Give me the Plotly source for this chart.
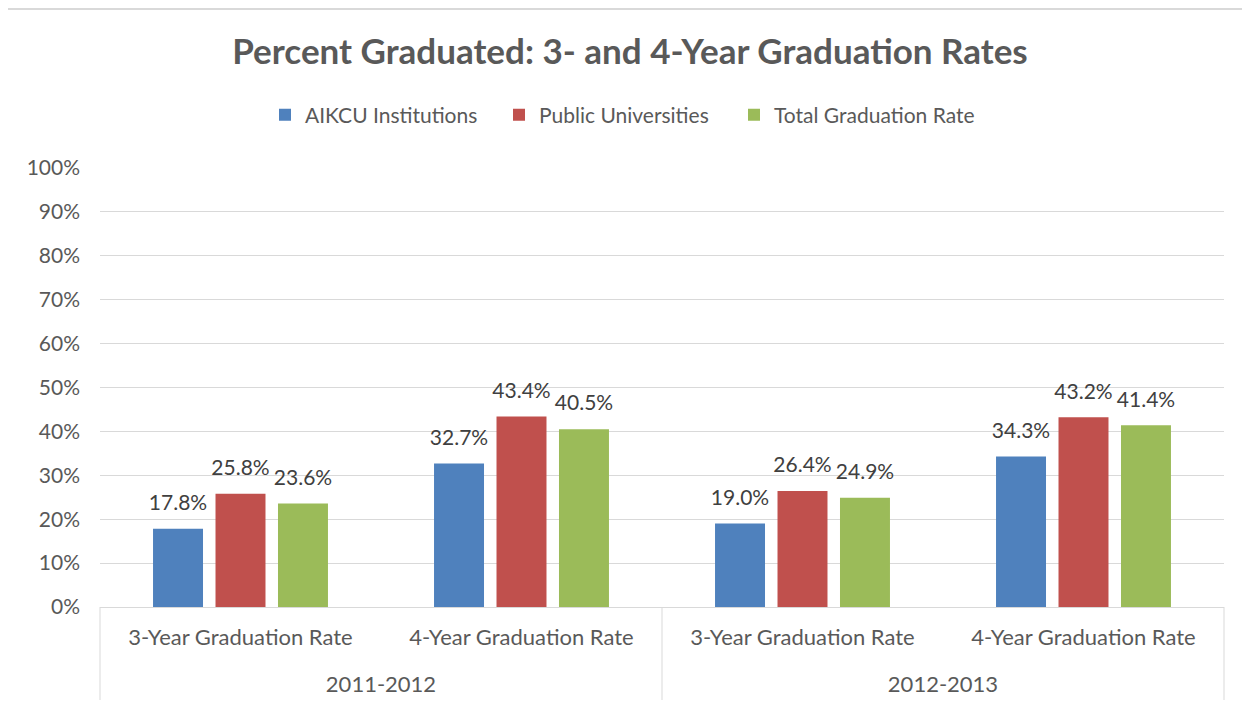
import plotly.graph_objects as go
from plotly.subplots import make_subplots

years = ["2011-2012", "2012-2013"]
rate_types = ["3-Year Graduation Rate", "4-Year Graduation Rate"]

series_names = ["AIKCU Institutions", "Public Universities", "Total Graduation Rate"]
# values ordered: [2011-2012 3yr, 2011-2012 4yr, 2012-2013 3yr, 2012-2013 4yr]
aikcu = [17.8, 32.7, 19.0, 34.3]
public = [25.8, 43.4, 26.4, 43.2]
total = [23.6, 40.5, 24.9, 41.4]
colors = ["#4F81BD", "#C0504D", "#9BBB59"]

y_ticks = list(range(0, 101, 10))
y_ticktext = [f"{v}%" for v in y_ticks]

FONT = "Lato"
TXT = "#595959"
GRID = "#D9D9D9"

# page offset (browser body margin) compensation
OFF = 8
W, H = 1250, 707
L, R_EDGE, T, B_EDGE = 100 - OFF, 1224 - OFF, 168 - OFF, 607 - OFF
PW, PH = R_EDGE - L, B_EDGE - T
GAP = 0.333

legend_ids = ["legend", "legend2", "legend3"]
legend_left_px = [265, 499, 734]

fig = make_subplots(rows=1, cols=2, shared_yaxes=True, horizontal_spacing=0)
for si, (name, vals, col) in enumerate(zip(series_names, [aikcu, public, total], colors)):
    for yi, yr in enumerate(years):
        v = vals[2 * yi:2 * yi + 2]
        fig.add_trace(go.Bar(
            x=rate_types, y=v, name=name,
            legendgroup=name, showlegend=(yi == 0), legend=legend_ids[si],
            offsetgroup=str(si),
            marker=dict(color=col, line=dict(width=0)),
            hoverinfo="skip",
        ), row=1, col=yi + 1)
        # value labels, grouped like the bars
        fig.add_trace(go.Scatter(
            x=rate_types, y=v, mode="markers+text", showlegend=False,
            offsetgroup=str(si), legendgroup=name, legend=legend_ids[si],
            marker=dict(size=20, opacity=0, color=col),
            text=[f"{a:.1f}%" for a in v], textposition="top center",
            textfont=dict(family=FONT, size=21, color="#404040"),
            cliponaxis=False, hoverinfo="skip",
        ), row=1, col=yi + 1)

legend_y = (B_EDGE - (115 - OFF)) / PH
legend_cfgs = {}
for lid, lx in zip(legend_ids, legend_left_px):
    legend_cfgs[lid] = dict(orientation="h", x=(lx - OFF - L) / PW, xanchor="left",
                            y=legend_y, yanchor="middle",
                            font=dict(family=FONT, size=21, color=TXT),
                            bgcolor="rgba(0,0,0,0)")

fig.update_layout(
    width=W, height=H,
    paper_bgcolor="white", plot_bgcolor="white",
    margin=dict(l=L, r=W - R_EDGE, t=T, b=H - B_EDGE),
    barmode="group", bargap=GAP, bargroupgap=0.2,
    scattermode="group", scattergap=GAP,
    font=dict(family=FONT, color=TXT),
    title=dict(text="<b>Percent Graduated: 3- and 4-Year Graduation Rates</b>",
               x=(630 - OFF) / W, xanchor="center", y=1 - (52 - OFF) / H,
               yanchor="middle",
               font=dict(family=FONT, size=35, color=TXT)),
    showlegend=True,
    **legend_cfgs,
)
fig.update_yaxes(range=[0, 100], tickvals=y_ticks, ticktext=y_ticktext,
                 showgrid=True, gridcolor=GRID, gridwidth=1,
                 zeroline=False, showline=False,
                 tickfont=dict(family=FONT, size=21, color=TXT),
                 ticklabelstandoff=19)
fig.update_yaxes(showticklabels=False, row=1, col=2)
for i, yr in enumerate(years):
    fig.update_xaxes(showline=True, linecolor=GRID, linewidth=1,
                     showgrid=False, ticks="",
                     tickfont=dict(family=FONT, size=22, color=TXT),
                     ticklabelstandoff=11,
                     title=dict(text=yr, standoff=27,
                                font=dict(family=FONT, size=22, color=TXT)),
                     row=1, col=i + 1)

# category dividers below the axis
for xd in [0, 0.5, 1]:
    fig.add_shape(type="line", xref="paper", yref="paper",
                  x0=xd, x1=xd, y0=0, y1=-(700 - 607) / PH,
                  line=dict(color=GRID, width=1))

# outer chart border (left and top edges visible in the reference)
bx = (7 - OFF - L) / PW
by = (B_EDGE - (9 - OFF)) / PH
fig.add_shape(type="line", xref="paper", yref="paper",
              x0=bx, x1=bx, y0=-(H - B_EDGE) / PH, y1=by,
              line=dict(color=GRID, width=2))
fig.add_shape(type="line", xref="paper", yref="paper",
              x0=bx, x1=(W - L) / PW, y0=by, y1=by,
              line=dict(color=GRID, width=2))

fig.write_html("out.html")
